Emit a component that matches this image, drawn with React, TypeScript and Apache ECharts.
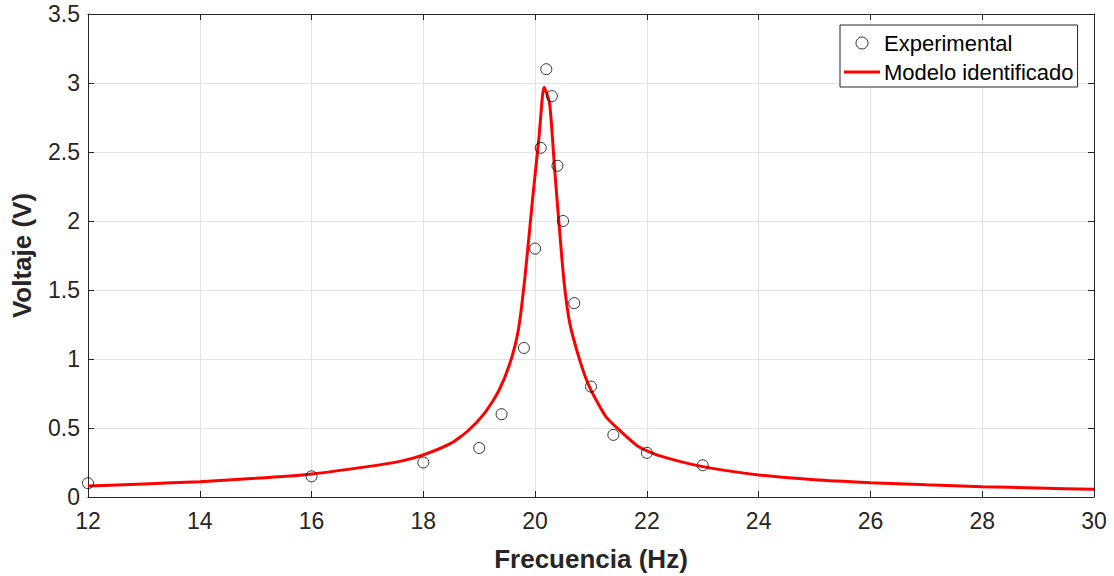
import React, { useEffect, useRef } from "react";
import * as echarts from "echarts";

const expFreq = [12, 16, 18, 19, 19.4, 19.8, 20.0, 20.1, 20.2, 20.3, 20.4, 20.5, 20.7, 21.0, 21.4, 22, 23];
const expVolt = [0.1, 0.15, 0.25, 0.355, 0.6, 1.08, 1.8, 2.53, 3.1, 2.905, 2.4, 2.0, 1.405, 0.8, 0.45, 0.32, 0.23];

const modelFreq = [12, 13, 14, 15, 16, 17, 17.6, 18, 18.5, 18.8, 19.1, 19.35, 19.55, 19.7, 19.82, 19.96, 20.07, 20.13, 20.16, 20.26, 20.35, 20.44, 20.52, 20.62, 20.8, 20.97, 21.27, 21.63, 21.87, 22.22, 23, 24, 25, 26, 27, 28, 29, 30];
const modelVolt = [0.08, 0.095, 0.111, 0.135, 0.167, 0.22, 0.26, 0.305, 0.39, 0.48, 0.61, 0.77, 0.97, 1.21, 1.6, 2.18, 2.61, 2.9, 2.97, 2.85, 2.37, 1.92, 1.55, 1.26, 0.99, 0.8, 0.58, 0.44, 0.36, 0.3, 0.22, 0.16, 0.125, 0.104, 0.088, 0.075, 0.065, 0.056];

const xTicks = { min: 12, max: 30, interval: 2 };
const yTicks = { min: 0, max: 3.5, interval: 0.5 };

const FONT = "'Liberation Sans', Arial, Helvetica, sans-serif";
const AX = "#262626";

export default function App() {
  const ref = useRef<HTMLDivElement>(null);
  useEffect(() => {
    if (!ref.current) return;
    const chart = echarts.init(ref.current, undefined, { renderer: "svg" });
    const axisCommon = {
      axisLine: { show: true, onZero: false, lineStyle: { color: AX, width: 1 } },
      axisTick: { show: true, inside: true, length: 6, lineStyle: { color: AX } },
    };
    chart.setOption({
      animation: false,
      backgroundColor: "#ffffff",
      textStyle: { fontFamily: FONT },
      grid: { left: 88, right: 20, top: 14, bottom: 79, containLabel: false, outerBoundsMode: "none" },
      legend: {
        orient: "vertical",
        left: 840,
        top: 25,
        padding: [7, 4, 4, 4],
        itemGap: 7,
        itemWidth: 36,
        itemHeight: 12,
        borderColor: AX,
        borderWidth: 1,
        borderRadius: 0,
        backgroundColor: "#ffffff",
        textStyle: { fontFamily: FONT, fontSize: 22, color: "#000000", padding: [0, 0, 0, -1] },
        data: [
          { name: "Experimental", icon: "circle", itemStyle: { color: "rgba(0,0,0,0)", borderColor: "#000", borderWidth: 1 } },
          { name: "Modelo identificado", icon: "path://M0,0 H36 V3 H0 Z", itemStyle: { color: "#ff0000", borderWidth: 0 } },
        ],
      },
      xAxis: [
        {
          type: "value",
          min: xTicks.min,
          max: xTicks.max,
          interval: xTicks.interval,
          ...axisCommon,
          axisLabel: { color: AX, fontSize: 23, fontFamily: FONT, margin: 12 },
          splitLine: { show: true, lineStyle: { color: "#e3e3e3", width: 1 } },
          name: "Frecuencia (Hz)",
          nameLocation: "middle",
          nameGap: 49,
          nameTextStyle: { color: AX, fontSize: 26, fontWeight: "bold", fontFamily: FONT },
        },
        {
          type: "value",
          position: "top",
          min: xTicks.min,
          max: xTicks.max,
          interval: xTicks.interval,
          ...axisCommon,
          axisLabel: { show: false },
          splitLine: { show: false },
        },
      ],
      yAxis: [
        {
          type: "value",
          min: yTicks.min,
          max: yTicks.max,
          interval: yTicks.interval,
          ...axisCommon,
          axisLabel: { color: AX, fontSize: 23, fontFamily: FONT, margin: 8 },
          splitLine: { show: true, lineStyle: { color: "#e3e3e3", width: 1 } },
          name: "Voltaje (V)",
          nameLocation: "middle",
          nameGap: 53,
          nameTextStyle: { color: AX, fontSize: 26, fontWeight: "bold", fontFamily: FONT },
        },
        {
          type: "value",
          position: "right",
          min: yTicks.min,
          max: yTicks.max,
          interval: yTicks.interval,
          ...axisCommon,
          axisLabel: { show: false },
          splitLine: { show: false },
        },
      ],
      series: [
        {
          name: "Modelo identificado",
          type: "line",
          data: modelFreq.map((f, i) => [f, modelVolt[i]]),
          symbol: "none",
          smooth: 0.2,
          lineStyle: { color: "#ff0000", width: 3 },
          itemStyle: { color: "#ff0000" },
          z: 2,
        },
        {
          name: "Experimental",
          type: "scatter",
          data: expFreq.map((f, i) => [f, expVolt[i]]),
          symbol: "circle",
          symbolSize: 11,
          itemStyle: { color: "rgba(0,0,0,0)", borderColor: "#000000", borderWidth: 1 },
          z: 3,
        },
      ],
    });
    return () => chart.dispose();
  }, []);
  return (
    <div
      ref={ref}
      style={{ position: "fixed", left: 0, top: 0, width: 1114, height: 576 }}
    />
  );
}
